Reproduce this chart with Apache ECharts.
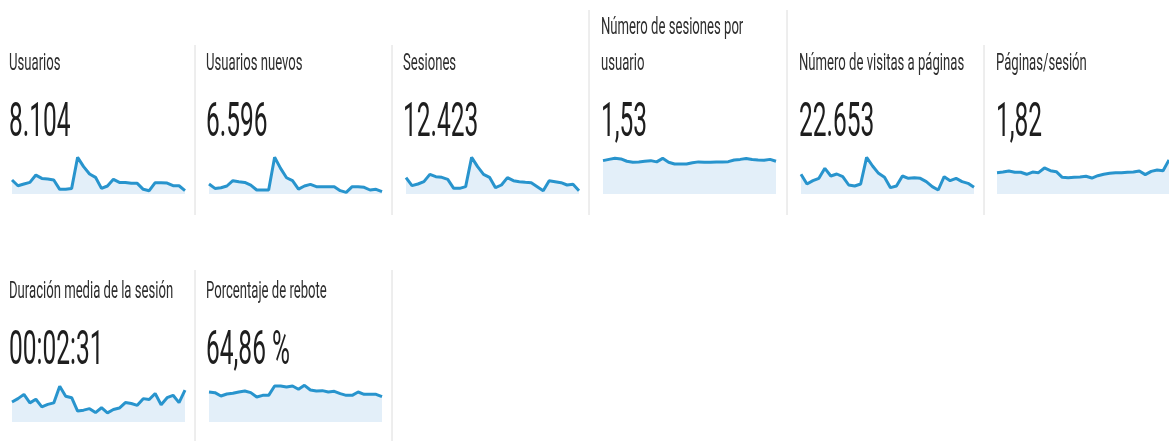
<!DOCTYPE html>
<html>
<head>
<meta charset="utf-8">
<script src="https://cdn.jsdelivr.net/npm/echarts@6/dist/echarts.min.js"></script>
<style>
  html, body { margin: 0; padding: 0; background: #fff; }
  #main { width: 1169px; height: 441px; }
</style>
</head>
<body>
<div id="main"></div>
<script>
// 30 days, one point per day
const days = Array.from({ length: 30 }, (_, i) => 'd' + (i + 1))

const titles = ['Usuarios', 'Usuarios nuevos', 'Sesiones', 'Número de sesiones por\nusuario',
  'Número de visitas a páginas', 'Páginas/sesión', 'Duración media de la sesión', 'Porcentaje de rebote']
const totals = ['8.104', '6.596', '12.423', '1,53', '22.653', '1,82', '00:02:31', '64,86 %']

const usuarios = [305, 262, 275, 287, 342, 317, 312, 305, 235, 235, 242, 475, 405, 350, 325,
  242, 260, 310, 287, 287, 280, 280, 235, 225, 285, 285, 282, 262, 262, 225]
const usuariosNuevos = [235, 202, 207, 220, 260, 252, 247, 227, 190, 190, 190, 435, 352, 282, 260,
  197, 220, 232, 215, 215, 215, 215, 185, 172, 215, 215, 210, 190, 195, 177]
const sesiones = [496, 400, 420, 448, 536, 508, 500, 476, 368, 368, 388, 740, 628, 536, 500,
  376, 408, 496, 460, 448, 440, 436, 388, 340, 460, 448, 436, 408, 416, 340]
const sesionesPorUsuario = [1.60, 1.66, 1.71, 1.68, 1.57, 1.52, 1.54, 1.57, 1.60, 1.54, 1.71, 1.52, 1.44, 1.44, 1.44,
  1.50, 1.54, 1.52, 1.52, 1.54, 1.54, 1.55, 1.63, 1.66, 1.70, 1.65, 1.63, 1.62, 1.66, 1.57]
const visitasPaginas = [972, 740, 820, 876, 1116, 932, 980, 916, 716, 692, 740, 1380, 1172, 996, 900,
  652, 692, 932, 876, 892, 876, 796, 676, 596, 916, 820, 876, 796, 756, 660]
const paginasSesion = [1.82, 1.87, 1.96, 1.85, 1.85, 1.68, 1.87, 1.82, 2.22, 1.99, 1.90, 1.42, 1.39, 1.42, 1.45,
  1.51, 1.36, 1.56, 1.68, 1.76, 1.82, 1.82, 1.85, 1.87, 1.96, 1.65, 1.93, 2.04, 1.99, 2.90]
// seconds
const duracionMedia = [156, 167, 181, 153, 165, 140, 148, 153, 208, 175, 170, 126, 129, 134, 121,
  137, 120, 131, 136, 154, 151, 145, 167, 164, 184, 147, 170, 178, 154, 195]
const rebote = [64.8, 63.4, 56.2, 60.5, 61.9, 64.8, 67.0, 63.4, 54.0, 57.6, 57.6, 77.8, 77.8, 75.6, 77.8,
  70.6, 79.2, 69.1, 67.0, 67.7, 64.8, 66.2, 61.2, 57.6, 57.6, 64.8, 59.8, 59.8, 59.8, 54.7]

const seriesData = [usuarios, usuariosNuevos, sesiones, sesionesPorUsuario, visitasPaginas, paginasSesion, duracionMedia, rebote]
const yRange = [[200, 530], [160, 490], [300, 828], [0, 2.11], [500, 1556], [0, 3.75], [90, 235], [0, 95]]

// panel layout: text x, sparkline left, row
const panels = [
  { tx: 9, gx: 12, row: 0 },
  { tx: 206, gx: 209, row: 0 },
  { tx: 403, gx: 406, row: 0 },
  { tx: 601, gx: 603, row: 0 },
  { tx: 799, gx: 801, row: 0 },
  { tx: 996, gx: 997, row: 0 },
  { tx: 9, gx: 12, row: 1 },
  { tx: 206, gx: 209, row: 1 },
]
const rows = [
  { title: 64, num: 124, top: 150 },
  { title: 292, num: 352, top: 378 },
]

const lineColor = '#2894cd'
const areaColor = '#e3eff9'

let myChart = echarts.init(document.getElementById('main'))

const grids = [], xAxes = [], yAxes = [], series = [], graphics = []
panels.forEach((p, i) => {
  const r = rows[p.row]
  grids.push({ left: p.gx, top: r.top, width: 173, height: 44 })
  xAxes.push({ type: 'category', gridIndex: i, data: days, boundaryGap: false, show: false })
  yAxes.push({ type: 'value', gridIndex: i, min: yRange[i][0], max: yRange[i][1], show: false })
  series.push({
    type: 'line',
    xAxisIndex: i,
    yAxisIndex: i,
    data: seriesData[i],
    symbol: 'none',
    lineStyle: { color: lineColor, width: 3 },
    areaStyle: { color: areaColor, opacity: 1 },
    silent: true
  })

  // title (two lines for panel 4)
  const lines = titles[i].split('\n')
  lines.forEach((t, k) => {
    graphics.push({
      type: 'text',
      x: p.tx,
      y: r.title - (lines.length - 1 - k) * 36,
      scaleX: 0.57,
      style: { text: t, font: '23px Roboto', fill: '#2e2e2e', verticalAlign: 'middle' }
    })
  })
  graphics.push({
    type: 'text',
    x: p.tx,
    y: r.num,
    scaleX: 0.5,
    style: { text: totals[i], font: '49px Roboto', fill: '#1e1e1e', verticalAlign: 'middle' }
  })
})

// separators between panels
const sepRow1 = [[195, 45], [392, 45], [589, 10], [787, 10], [984, 45]]
sepRow1.forEach(([x, y0]) => {
  graphics.push({ type: 'line', shape: { x1: x, y1: y0, x2: x, y2: 215 }, style: { stroke: '#dcdcdc', lineWidth: 1 } })
})
;[195, 392].forEach(x => {
  graphics.push({ type: 'line', shape: { x1: x, y1: 270, x2: x, y2: 441 }, style: { stroke: '#dcdcdc', lineWidth: 1 } })
})

myChart.setOption({
  animation: false,
  grid: grids,
  xAxis: xAxes,
  yAxis: yAxes,
  series: series,
  graphic: graphics
})
</script>
</body>
</html>
